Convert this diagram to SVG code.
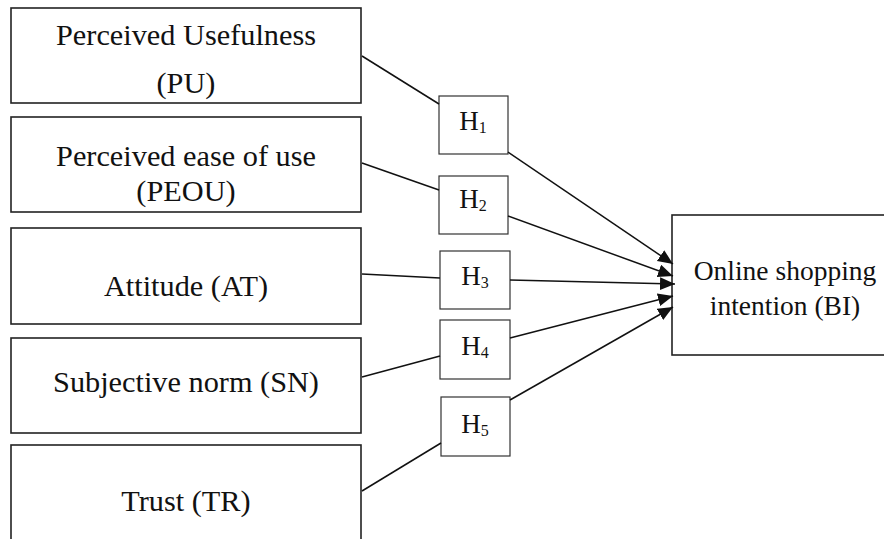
<svg xmlns="http://www.w3.org/2000/svg" width="884" height="539" viewBox="0 0 884 539">
<style>
.box{fill:#fff;stroke:#222;stroke-width:1.6}
.hbox{fill:#fff;stroke:#333;stroke-width:1.2}
text{font-family:'Liberation Serif','Times New Roman','DejaVu Serif',serif;fill:#111;text-anchor:middle}
.t{font-size:30.3px}
.tb{font-size:27.5px}
.h{font-size:27px}
.sub{font-size:16px}
.ln{stroke:#111;stroke-width:1.5;fill:none}
</style>
<defs>
<marker id="arr" markerUnits="userSpaceOnUse" markerWidth="16" markerHeight="14" refX="15" refY="6.5" orient="auto">
<path d="M0,0 L15,6.5 L0,13 z" fill="#111"/>
</marker>
</defs>
<g id="PU"><rect class="box" x="11" y="8" width="350" height="95"/><text class="t" x="186" y="45">Perceived Usefulness</text><text class="t" x="186" y="93">(PU)</text></g>
<g id="PEOU"><rect class="box" x="11" y="117" width="350" height="95"/><text class="t" x="186" y="166">Perceived ease of use</text><text class="t" x="186" y="201">(PEOU)</text></g>
<g id="AT"><rect class="box" x="11" y="228" width="350" height="96"/><text class="t" x="186" y="296">Attitude (AT)</text></g>
<g id="SN"><rect class="box" x="11" y="338" width="350" height="95"/><text class="t" x="186" y="392">Subjective norm (SN)</text></g>
<g id="TR"><rect class="box" x="11" y="445" width="350" height="120"/><text class="t" x="186" y="511">Trust (TR)</text></g>
<g id="H1"><rect class="hbox" x="439" y="96" width="69" height="58"/><text class="h" x="473" y="130">H<tspan class="sub" dy="3">1</tspan></text></g>
<g id="H2"><rect class="hbox" x="439" y="176" width="69" height="58"/><text class="h" x="473" y="208">H<tspan class="sub" dy="3">2</tspan></text></g>
<g id="H3"><rect class="hbox" x="440" y="251" width="70" height="58"/><text class="h" x="475" y="285">H<tspan class="sub" dy="3">3</tspan></text></g>
<g id="H4"><rect class="hbox" x="440" y="320" width="70" height="59"/><text class="h" x="475" y="355">H<tspan class="sub" dy="3">4</tspan></text></g>
<g id="H5"><rect class="hbox" x="441" y="397" width="69" height="59"/><text class="h" x="475" y="433">H<tspan class="sub" dy="3">5</tspan></text></g>
<g id="BI"><rect class="box" x="672" y="215" width="240" height="140"/><text class="tb" x="785" y="280">Online shopping</text><text class="tb" x="785" y="315">intention (BI)</text></g>
<g id="connectors">
<line class="ln" x1="362" y1="56" x2="439" y2="104"/>
<line class="ln" x1="362" y1="163" x2="439" y2="190"/>
<line class="ln" x1="362" y1="274" x2="440" y2="278"/>
<line class="ln" x1="362" y1="377" x2="440" y2="356"/>
<line class="ln" x1="362" y1="491" x2="441" y2="443"/>
<line class="ln" x1="508" y1="152" x2="673" y2="264" marker-end="url(#arr)"/>
<line class="ln" x1="508" y1="216" x2="673" y2="276" marker-end="url(#arr)"/>
<line class="ln" x1="510" y1="280" x2="675" y2="284" marker-end="url(#arr)"/>
<line class="ln" x1="510" y1="338" x2="673" y2="296" marker-end="url(#arr)"/>
<line class="ln" x1="510" y1="400" x2="673" y2="307" marker-end="url(#arr)"/>
</g>
</svg>
